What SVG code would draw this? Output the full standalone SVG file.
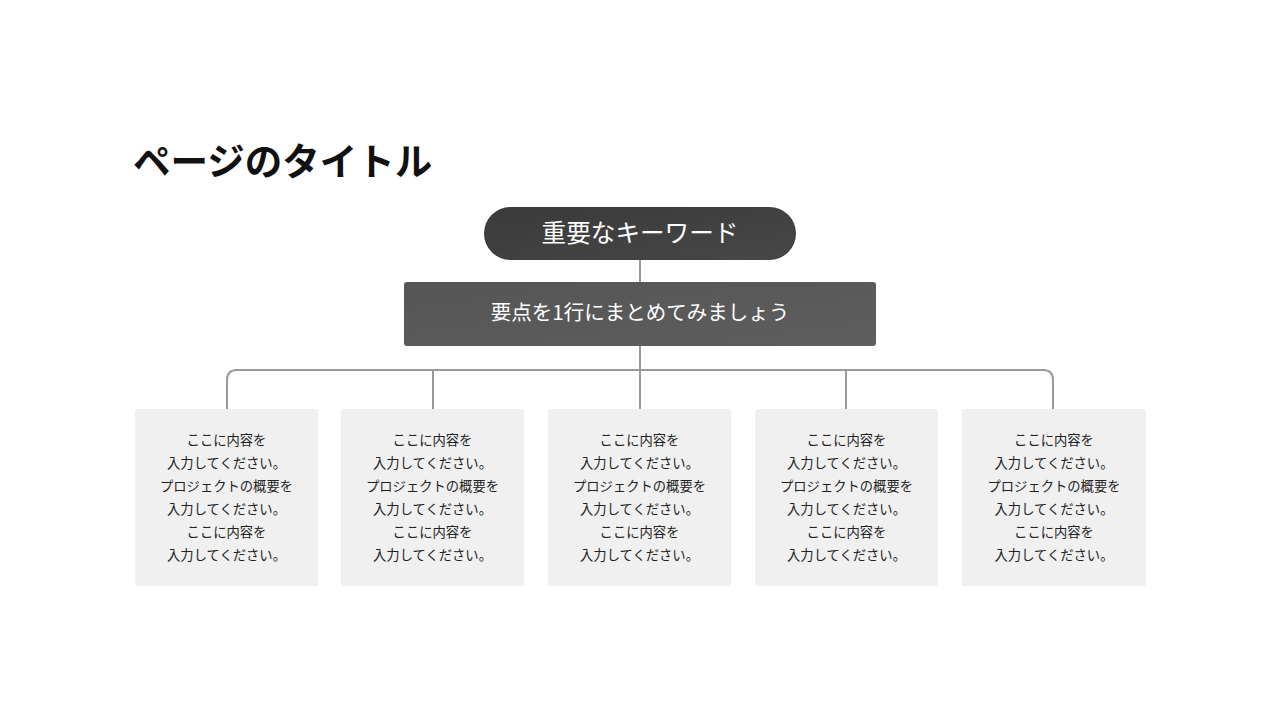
<svg xmlns="http://www.w3.org/2000/svg" width="1280" height="720" viewBox="0 0 1280 720">
<defs>
<linearGradient id="gPill" x1="0" y1="0" x2="1" y2="1">
<stop offset="0" stop-color="#3a3a3a"/>
<stop offset="1" stop-color="#474747"/>
</linearGradient>
<linearGradient id="gRect" x1="0" y1="0" x2="1" y2="1">
<stop offset="0" stop-color="#555555"/>
<stop offset="1" stop-color="#5e5e5e"/>
</linearGradient>
<style>
.jp{font-family:"Noto Sans CJK JP","Noto Sans",sans-serif;}
.title{font-size:37.5px;font-weight:600;fill:#111111;}
.w{fill:#ffffff;text-anchor:middle;}
.box{fill:#f0f0f0;}
.bt{font-size:13.3px;fill:#222222;text-anchor:middle;}
.conn{fill:none;stroke:#999999;stroke-width:2;}
</style>
</defs>
<rect width="1280" height="720" fill="#ffffff"/>
<text class="jp title" x="133" y="175">ページのタイトル</text>
<g id="connectors">
<line class="conn" x1="640" y1="259" x2="640" y2="283"/>
<line class="conn" x1="640" y1="345" x2="640" y2="409"/>
<path class="conn" d="M227 409 V380 Q227 370 237 370 H1043 Q1053 370 1053 380 V409"/>
<line class="conn" x1="433" y1="370" x2="433" y2="409"/>
<line class="conn" x1="846" y1="370" x2="846" y2="409"/>
</g>
<g id="keyword">
<rect x="484" y="207" width="312" height="53" rx="26.5" fill="url(#gPill)"/>
<text class="jp w" x="640" y="242" font-size="24.6">重要なキーワード</text>
</g>
<g id="summary">
<rect x="404" y="282" width="472" height="64" rx="3" fill="url(#gRect)"/>
<text class="jp w" x="640" y="320" font-size="20.5">要点を1行にまとめてみましょう</text>
</g>
<g id="box1">
<rect class="box" x="135" y="409" width="183" height="177" rx="3"/>
<text class="jp bt" x="226.5"><tspan x="226.5" y="444.5">ここに内容を</tspan><tspan x="226.5" y="467.5">入力してください。</tspan><tspan x="226.5" y="490.5">プロジェクトの概要を</tspan><tspan x="226.5" y="513.5">入力してください。</tspan><tspan x="226.5" y="536.5">ここに内容を</tspan><tspan x="226.5" y="559.5">入力してください。</tspan></text>
</g>
<g id="box2">
<rect class="box" x="341" y="409" width="183" height="177" rx="3"/>
<text class="jp bt" x="432.5"><tspan x="432.5" y="444.5">ここに内容を</tspan><tspan x="432.5" y="467.5">入力してください。</tspan><tspan x="432.5" y="490.5">プロジェクトの概要を</tspan><tspan x="432.5" y="513.5">入力してください。</tspan><tspan x="432.5" y="536.5">ここに内容を</tspan><tspan x="432.5" y="559.5">入力してください。</tspan></text>
</g>
<g id="box3">
<rect class="box" x="548" y="409" width="183" height="177" rx="3"/>
<text class="jp bt" x="639.5"><tspan x="639.5" y="444.5">ここに内容を</tspan><tspan x="639.5" y="467.5">入力してください。</tspan><tspan x="639.5" y="490.5">プロジェクトの概要を</tspan><tspan x="639.5" y="513.5">入力してください。</tspan><tspan x="639.5" y="536.5">ここに内容を</tspan><tspan x="639.5" y="559.5">入力してください。</tspan></text>
</g>
<g id="box4">
<rect class="box" x="755" y="409" width="183" height="177" rx="3"/>
<text class="jp bt" x="846.5"><tspan x="846.5" y="444.5">ここに内容を</tspan><tspan x="846.5" y="467.5">入力してください。</tspan><tspan x="846.5" y="490.5">プロジェクトの概要を</tspan><tspan x="846.5" y="513.5">入力してください。</tspan><tspan x="846.5" y="536.5">ここに内容を</tspan><tspan x="846.5" y="559.5">入力してください。</tspan></text>
</g>
<g id="box5">
<rect class="box" x="962" y="409" width="184" height="177" rx="3"/>
<text class="jp bt" x="1054"><tspan x="1054" y="444.5">ここに内容を</tspan><tspan x="1054" y="467.5">入力してください。</tspan><tspan x="1054" y="490.5">プロジェクトの概要を</tspan><tspan x="1054" y="513.5">入力してください。</tspan><tspan x="1054" y="536.5">ここに内容を</tspan><tspan x="1054" y="559.5">入力してください。</tspan></text>
</g>
</svg>
